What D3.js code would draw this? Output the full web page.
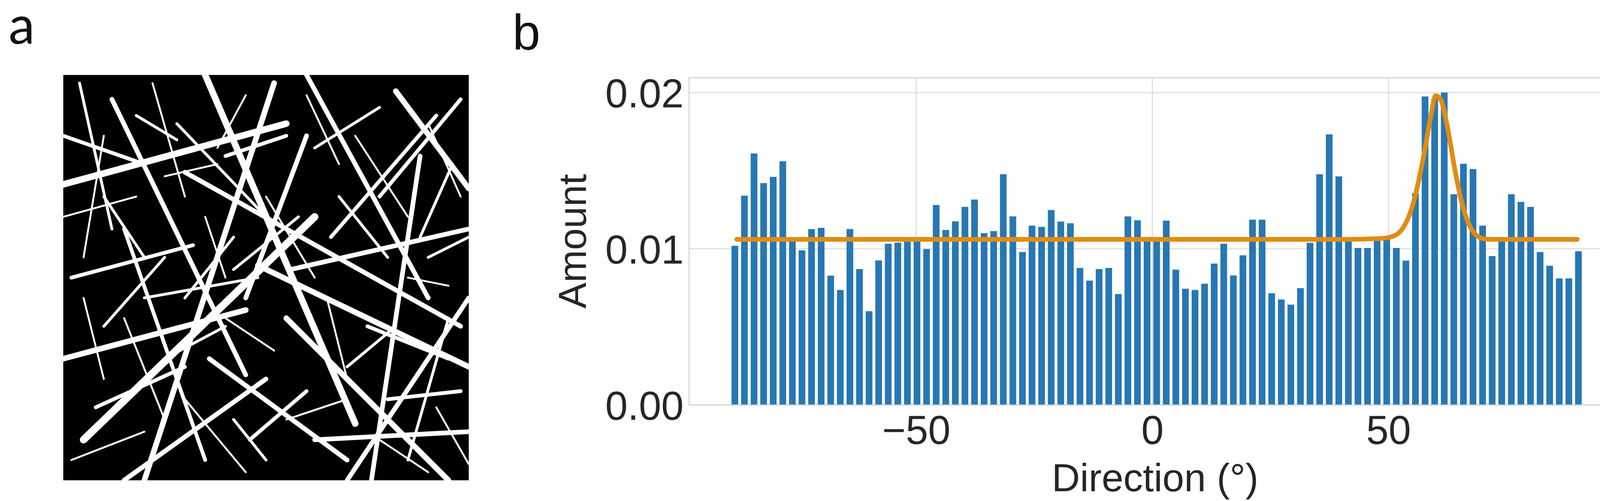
<!DOCTYPE html>
<html><head><meta charset="utf-8">
<script src="https://cdn.jsdelivr.net/npm/d3@7"></script>
<style>body{margin:0;background:#fff}svg{display:block}</style>
</head><body>
<svg id="c" width="4192" height="1283"></svg>
<script>
// ---- data ----
const amounts = [
0.01019,0.0134,0.0161,0.0142,0.0146,0.0156,0.01057,0.0099,0.01126,0.01134,
0.00828,0.00736,0.01126,0.0087,0.0060,0.00925,0.01032,0.01039,0.0105,0.0105,
0.00998,0.0128,0.0112,0.01175,0.01268,0.01315,0.0110,0.01113,0.01477,0.01207,
0.00979,0.01148,0.0114,0.01248,0.01174,0.01163,0.00877,0.00796,0.0087,0.00877,
0.0071,0.01207,0.01182,0.0105,0.0105,0.0118,0.00866,0.00744,0.00736,0.00776,
0.00905,0.01032,0.00829,0.00958,0.01186,0.01186,0.00715,0.00675,0.00642,0.00748,
0.01038,0.01477,0.01732,0.01463,0.0105,0.01005,0.01005,0.0105,0.0106,0.01005,
0.00924,0.01355,0.01975,0.0196,0.0200,0.01349,0.01544,0.0151,0.01148,0.00953,
0.0105,0.01349,0.0130,0.01268,0.00979,0.00891,0.0081,0.0081,0.00984];
const firstDirection = -88.4, binStep = 2.03, binWidthDeg = 1.42;
const directions = amounts.map((_, i) => firstDirection + i * binStep);
const fitX = [-88,-40,0,40,48,51,53,54.5,56,57.5,59,60,61,62.5,64,65.5,67,68.5,70,72,75,90];
const fitY = [0.0106,0.0106,0.0106,0.0106,0.01065,0.0108,0.0113,0.0122,0.0138,0.0160,0.0185,0.0198,0.0196,0.0178,0.0152,0.0130,0.0116,0.0109,0.01065,0.0106,0.0106,0.0106];
const xTicks = [-50, 0, 50];
const yTicks = [0.00, 0.01, 0.02];
// fibre image segments (normalised 0..1, width)
const fibres = [
[0,0.27,0.55,0.12,7],[0.05,0.9,0.62,0.35,8],[0.2,1,0.52,0.02,6],[0.35,0,0.72,0.86,7],
[0.48,0.47,1,0.72,6],[0.56,0.48,1,0.38,5],[0,0.7,0.45,0.58,6],[0.3,0.24,0.98,0.62,5],
[0.6,0,0.9,0.55,5],[0.7,1,1,0.55,5],[0.12,0.06,0.45,0.74,5],[0.82,0.04,1,0.28,6],
[0.4,0.2,0.55,0.15,4],[0.02,0.5,0.32,0.42,4],[0.55,0.6,0.95,1,6],[0.62,0.9,1,0.88,5],
[0.78,0.3,0.98,0.06,4],[0.15,0.38,0.35,0.95,4],[0.45,0.55,0.6,0.15,5],[0.88,0.2,0.76,1,5],
[0.66,0.4,0.92,0.1,4],[0,0.15,0.2,0.22,4],[0.25,0.45,0.1,0.62,3],[0.5,0.75,0.15,1,5],
[0.75,0.62,0.95,0.7,4],[0.28,0.12,0.5,0.35,3],[0.9,0.45,1,0.4,3],[0.58,0.35,0.42,0.48,3],
[0.08,0.82,0.3,0.72,4],[0.36,0.7,0.7,0.95,5],[0.95,0.6,0.85,0.95,3],[0.2,0.55,0.48,0.5,3],
[0.04,0.02,0.12,0.38,3],[0.62,0.18,0.78,0.08,3],[0.46,0.9,0.6,0.78,4],[0.8,0.8,0.98,0.78,4],
[0,0.35,0.18,0.3,2],[0.1,0.15,0.05,0.45,2],[0.22,0.02,0.3,0.3,2],[0.15,0.6,0.25,0.85,2],
[0.3,0.8,0.45,0.98,2],[0.02,0.95,0.2,0.88,2],[0.5,0.3,0.62,0.5,2],[0.65,0.55,0.7,0.75,2],
[0.72,0.15,0.85,0.35,2],[0.9,0.12,0.98,0.3,2],[0.85,0.5,0.95,0.52,2],[0.78,0.9,0.9,0.98,2],
[0.4,0.6,0.52,0.68,2],[0.55,0.85,0.7,0.8,2],[0.05,0.55,0.1,0.75,2],[0.35,0.35,0.4,0.5,2],
[0.6,0.05,0.68,0.22,2],[0.45,0.05,0.38,0.18,2],[0.25,0.25,0.38,0.22,2],[0.92,0.82,1,0.96,2],
[0.18,0.1,0.28,0.16,3],[0.68,0.3,0.8,0.45,3],[0.3,0.55,0.42,0.4,3],[0.82,0.62,0.7,0.72,3],
[0.1,0.3,0.2,0.45,3],[0.5,0.95,0.42,0.85,3],[0.96,0.22,0.88,0.4,3],[0.25,0.7,0.4,0.62,3]
];

const svg = d3.select('#c');
const font = '"Liberation Sans", Arial, sans-serif';

// ---- panel a ----
svg.append('text').attr('x',22).attr('y',112).attr('font-family','Lato, "Open Sans", sans-serif')
  .attr('font-size',135).attr('fill','#111').text('a');
const ix = d3.scaleLinear().domain([0,1]).range([162,1200]);
const iy = d3.scaleLinear().domain([0,1]).range([192,1230]);
const ga = svg.append('g');
ga.append('rect').attr('x',ix(0)).attr('y',iy(0)).attr('width',ix(1)-ix(0)).attr('height',iy(1)-iy(0)).attr('fill','#000');
const clip = svg.append('clipPath').attr('id','ic');
clip.append('rect').attr('x',ix(0)).attr('y',iy(0)).attr('width',ix(1)-ix(0)).attr('height',iy(1)-iy(0));
ga.append('g').attr('clip-path','url(#ic)').selectAll('line').data(fibres).join('line')
  .attr('x1',d=>ix(d[0])).attr('y1',d=>iy(d[1])).attr('x2',d=>ix(d[2])).attr('y2',d=>iy(d[3]))
  .attr('stroke','#fff').attr('stroke-width',d=>d[4]*2.4).attr('stroke-linecap','round');

// ---- panel b ----
svg.append('text').attr('x',1312).attr('y',127).attr('font-family',font)
  .attr('font-size',128).attr('fill','#111').text('b');
const L=1764, R=4160, T=199, B=1037;
const x = d3.scaleLinear().domain([-98.1,100.1]).range([L,R]);
const y = d3.scaleLinear().domain([0,0.02]).range([B,237]);
const g = svg.append('g');
g.selectAll('.gx').data(xTicks).join('line').attr('x1',d=>x(d)).attr('x2',d=>x(d)).attr('y1',T).attr('y2',B)
  .attr('stroke','#d9d9d9').attr('stroke-width',2.5);
g.selectAll('.gy').data(yTicks).join('line').attr('x1',L).attr('x2',R).attr('y1',d=>y(d)).attr('y2',d=>y(d))
  .attr('stroke','#d9d9d9').attr('stroke-width',2.5);
const bw = x(binWidthDeg) - x(0);
g.selectAll('.bar').data(amounts).join('rect')
  .attr('x',(d,i)=>x(directions[i])-bw/2).attr('width',bw)
  .attr('y',d=>y(d)).attr('height',d=>y(0)-y(d)).attr('fill','#2777b4');
g.append('rect').attr('x',L).attr('y',T).attr('width',R-L).attr('height',B-T)
  .attr('fill','none').attr('stroke','#cfcfcf').attr('stroke-width',2.5);
g.append('path').datum(fitX.map((v,i)=>[v,fitY[i]]))
  .attr('d',d3.line().x(d=>x(d[0])).y(d=>y(d[1])).curve(d3.curveMonotoneX))
  .attr('fill','none').attr('stroke','#e08c12').attr('stroke-width',12).attr('stroke-linecap','round').attr('stroke-linejoin','round');
// axes
const xa = g.append('g').attr('transform',`translate(0,${B})`)
  .call(d3.axisBottom(x).tickValues(xTicks).tickSize(0).tickPadding(100).tickFormat(d=>d<0?'\u2212'+Math.abs(d):d));
const ya = g.append('g').attr('transform',`translate(${L},0)`)
  .call(d3.axisLeft(y).tickValues(yTicks).tickSize(0).tickPadding(14).tickFormat(d3.format('.2f')));
[xa,ya].forEach(a=>{a.select('.domain').remove();
  a.selectAll('text').attr('font-family',font).attr('font-size',103).attr('fill','#262626');});
ya.selectAll('text').attr('dy','0.36em');
xa.selectAll('text').attr('dy','0');
g.append('text').attr('x',2957).attr('y',1258).attr('text-anchor','middle').attr('font-family',font)
  .attr('font-size',100).attr('fill','#262626').text('Direction (°)');
g.append('text').attr('transform','translate(1500,618) rotate(-90)').attr('text-anchor','middle')
  .attr('font-family',font).attr('font-size',100).attr('fill','#262626').text('Amount');
</script>
</body></html>
